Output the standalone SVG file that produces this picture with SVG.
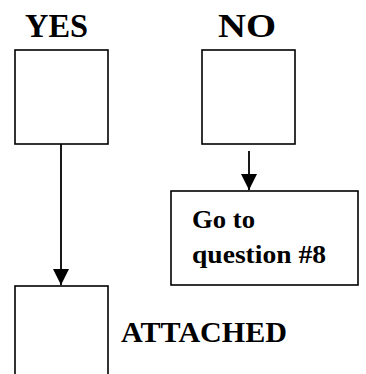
<svg xmlns="http://www.w3.org/2000/svg" width="366" height="374" viewBox="0 0 366 374">
<defs>
<marker id="ah" markerWidth="16" markerHeight="16" viewBox="0 0 16 16" refX="16" refY="8" orient="auto" markerUnits="userSpaceOnUse">
<path d="M0,0 L16,8 L0,16 Z" fill="#000"/>
</marker>
</defs>
<style>
.box{fill:#fff;stroke:#000;stroke-width:1.6}
.lbl{font-family:"Liberation Serif","Times New Roman",serif;font-weight:bold;fill:#000}
.conn{stroke:#000;stroke-width:1.8;fill:none}
</style>
<rect width="366" height="374" fill="#fff"/>
<g id="yes">
<text class="lbl" x="25" y="37" font-size="33" textLength="63" lengthAdjust="spacingAndGlyphs">YES</text>
<rect class="box" x="15" y="50" width="93" height="94"/>
</g>
<g id="no">
<text class="lbl" x="218" y="37" font-size="33" textLength="58" lengthAdjust="spacingAndGlyphs">NO</text>
<rect class="box" x="202" y="50" width="93" height="94"/>
</g>
<g id="goto">
<rect class="box" x="171" y="191" width="187" height="94"/>
<text class="lbl" x="192" y="228" font-size="25" textLength="63" lengthAdjust="spacingAndGlyphs">Go to</text>
<text class="lbl" x="192" y="263" font-size="25" textLength="134" lengthAdjust="spacingAndGlyphs">question #8</text>
</g>
<g id="attached">
<rect class="box" x="15" y="286" width="93" height="100"/>
<text class="lbl" x="121" y="342" font-size="29" textLength="166" lengthAdjust="spacingAndGlyphs">ATTACHED</text>
</g>
<g id="connectors">
<line class="conn" x1="61" y1="144" x2="61" y2="285" marker-end="url(#ah)"/>
<line class="conn" x1="249" y1="151" x2="249" y2="190" marker-end="url(#ah)"/>
</g>
</svg>
